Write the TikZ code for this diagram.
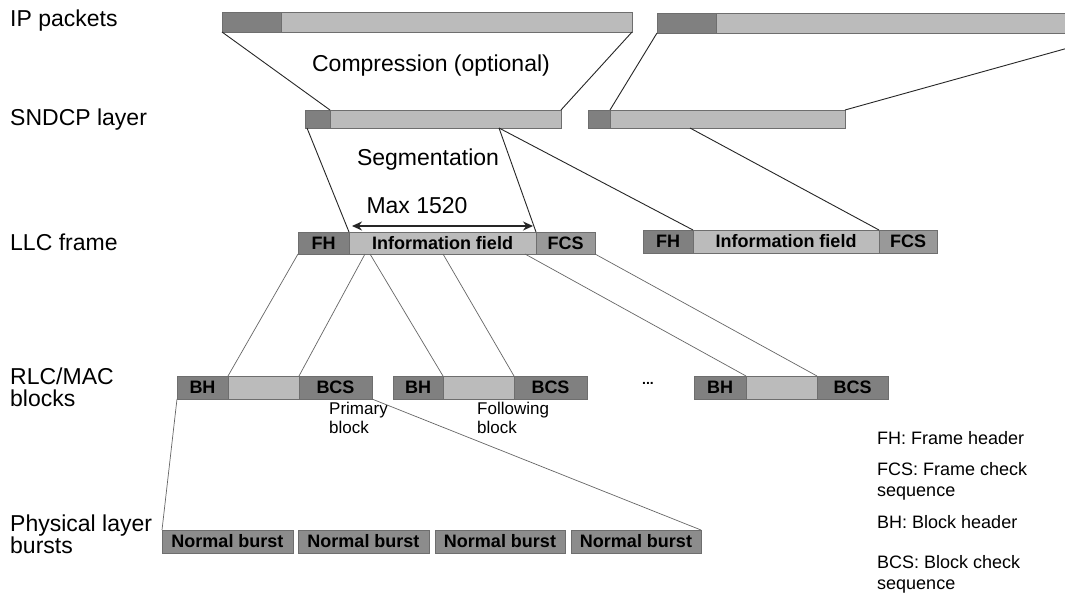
\documentclass[tikz,border=0pt]{standalone}
\usepackage{fontspec}
\setmainfont{Liberation Sans}
\usetikzlibrary{arrows.meta,calc}
\definecolor{hdr}{HTML}{808080}
\definecolor{lite}{HTML}{BBBBBB}
\definecolor{chk}{HTML}{999999}
\definecolor{bst}{HTML}{8C8C8C}
\definecolor{edge}{HTML}{6E6E6E}
\tikzset{
  bar/.style={draw=edge, line width=0.6pt, inner sep=0pt, outer sep=0pt, anchor=north west, font=\fontsize{18}{20}\selectfont\bfseries},
  dk/.style={bar, fill=hdr},
  lt/.style={bar, fill=lite},
  ck/.style={bar, fill=chk},
  bu/.style={bar, fill=bst},
  lbl/.style={font=\fontsize{23}{25}\selectfont, anchor=west, align=left, inner sep=0pt},
  mid/.style={font=\fontsize{23}{26}\selectfont, inner sep=0pt},
  small/.style={font=\fontsize{17}{19}\selectfont, anchor=north west, align=left, inner sep=0pt},
  leg/.style={font=\fontsize{18}{21}\selectfont, anchor=west, align=left, inner sep=0pt},
  link/.style={draw=black!85, line width=0.9pt},
  link2/.style={draw=black!60, line width=0.7pt},
}
\begin{document}
\begin{tikzpicture}[x=1pt,y=-1pt]
\useasboundingbox[fill=white] (0,0) rectangle (1065,592);
% labels
\node[lbl] (lip) at (10,21) {IP packets};
\node[lbl] (lsn) at (10,120) {SNDCP layer};
\node[lbl] (lllc) at (10,242) {LLC frame};
\node[lbl, font=\fontsize{23}{22}\selectfont] (lrlc) at (10,387) {RLC/MAC\\blocks};
\node[lbl, font=\fontsize{23}{22}\selectfont] (lphy) at (10,534) {Physical layer\\bursts};
% IP packets
\node[dk, minimum width=59, minimum height=20] (ip1h) at (222,12) {};
\node[lt, minimum width=351, minimum height=20] (ip1b) at (281,12) {};
\node[dk, minimum width=59, minimum height=20] (ip2h) at (657,13) {};
\node[lt, minimum width=406, minimum height=20] (ip2b) at (716,13) {};
% SNDCP
\node[dk, minimum width=25, minimum height=18] (sn1h) at (305,110) {};
\node[lt, minimum width=231, minimum height=18] (sn1b) at (330,110) {};
\node[dk, minimum width=22, minimum height=18] (sn2h) at (588,110) {};
\node[lt, minimum width=235, minimum height=18] (sn2b) at (610,110) {};
\node[mid] (comp) at (431,66) {Compression (optional)};
\node[mid] (seg) at (428,160) {Segmentation};
% LLC frames
\node[dk, minimum width=51, minimum height=22] (fh1) at (298,232) {FH};
\node[lt, minimum width=187, minimum height=22] (inf1) at (349,232) {Information field};
\node[ck, minimum width=59, minimum height=22] (fcs1) at (536,232) {FCS};
\node[dk, minimum width=50, minimum height=23] (fh2) at (643,230) {FH};
\node[lt, minimum width=186, minimum height=23] (inf2) at (693,230) {Information field};
\node[ck, minimum width=58, minimum height=23] (fcs2) at (879,230) {FCS};
% RLC/MAC blocks
\node[dk, minimum width=51, minimum height=23] (b1h) at (177,376) {BH};
\node[lt, minimum width=71, minimum height=23] (b1m) at (228,376) {};
\node[dk, minimum width=73, minimum height=23] (b1c) at (299,376) {BCS};
\node[dk, minimum width=50, minimum height=23] (b2h) at (393,376) {BH};
\node[lt, minimum width=71, minimum height=23] (b2m) at (443,376) {};
\node[dk, minimum width=73, minimum height=23] (b2c) at (514,376) {BCS};
\node[dk, minimum width=52, minimum height=23] (b3h) at (694,376) {BH};
\node[lt, minimum width=71, minimum height=23] (b3m) at (746,376) {};
\node[dk, minimum width=71, minimum height=23] (b3c) at (817,376) {BCS};
\node[font=\fontsize{14}{16}\selectfont\bfseries, inner sep=0pt] (dots) at (648,383) {...};
\node[small] (prim) at (329,402) {Primary\\block};
\node[small] (foll) at (477,402) {Following\\block};
% bursts
\node[bu, minimum width=131, minimum height=23] (p1) at (162,530) {Normal burst};
\node[bu, minimum width=131, minimum height=23] (p2) at (298,530) {Normal burst};
\node[bu, minimum width=130, minimum height=23] (p3) at (435,530) {Normal burst};
\node[bu, minimum width=130, minimum height=23] (p4) at (571,530) {Normal burst};
% legend
\node[leg] (lg1) at (877,438) {FH: Frame header};
\node[leg] (lg2) at (877,481) {FCS: Frame check\\sequence};
\node[leg] (lg3) at (877,522) {BH: Block header};
\node[leg] (lg4) at (877,574) {BCS: Block check\\sequence};
% connectors top
\draw[link] (ip1h.south west) -- (sn1h.north east);
\draw[link] (ip1b.south east) -- (sn1b.north east);
\draw[link] (ip2h.south west) -- (sn2h.north east);
\draw[link] (ip2b.south east) -- (sn2b.north east);
\coordinate (s1a) at ($(sn1h.south west)+(2,0)$);
\coordinate (s1b) at ($(sn1b.south west)+(169,0)$);
\coordinate (s2a) at ($(sn2b.south west)+(80,0)$);
\draw[link] (s1a) -- (inf1.north west);
\draw[link] (s1b) -- (fcs1.north west);
\draw[link] (s1b) -- (fh2.north east);
\draw[link] (s2a) -- (fcs2.north west);
% Max 1520 arrow
\coordinate (ma) at ($(inf1.north west)+(3,-6)$);
\coordinate (mb) at ($(inf1.north east)+(-3,-6)$);
\draw[line width=1.4pt, black!85, {Stealth[length=10pt,width=9pt]}-{Stealth[length=10pt,width=9pt]}] (ma) -- (mb);
\node[mid] (max) at (417,206) {Max 1520};
% connectors LLC -> blocks
\coordinate (i1a) at ($(inf1.south west)+(16,0)$);
\coordinate (i1b) at ($(inf1.south west)+(21,0)$);
\coordinate (i1c) at ($(inf1.south west)+(94,0)$);
\coordinate (i1d) at ($(inf1.south west)+(176,0)$);
\draw[link2] (fh1.south west) -- (b1m.north west);
\draw[link2] (i1a) -- (b1c.north west);
\draw[link2] (i1b) -- (b2m.north west);
\draw[link2] (i1c) -- (b2c.north west);
\draw[link2] (i1d) -- (b3m.north west);
\draw[link2] (fcs1.south east) -- (b3c.north west);
% blocks -> bursts
\draw[link2] (b1h.south west) -- (p1.north west);
\draw[link2] (b1c.south east) -- (p4.north east);
\end{tikzpicture}
\end{document}
